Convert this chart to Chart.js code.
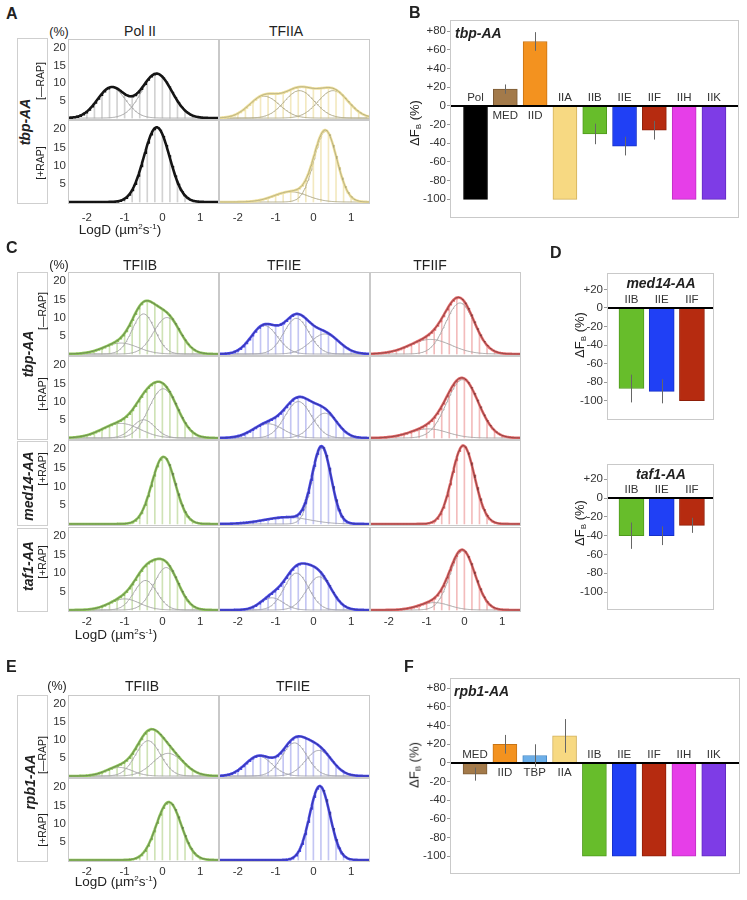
<!DOCTYPE html>
<html><head><meta charset="utf-8">
<script src="https://cdn.jsdelivr.net/npm/chart.js@4.4.1/dist/chart.umd.min.js"></script>
<style>
body{margin:0;background:#fff;width:747px;height:900px;position:relative;overflow:hidden;font-family:"Liberation Sans",Arial,sans-serif;color:#222}
.t{position:absolute;white-space:nowrap;line-height:1;z-index:5}
.c{transform:translate(-50%,-50%)}
.r{transform:translate(-50%,-50%) rotate(-90deg)}
.lt{font-weight:bold;font-size:16px}
.bi{font-weight:bold;font-style:italic;font-size:14px}
.sm{font-size:10.5px}
.lb{position:absolute;border:1px solid #cfcfcf;box-sizing:border-box}
sup{font-size:8px;vertical-align:5px}
sub{font-size:8px;vertical-align:-2px}
</style></head><body>
<script>
// ---------- data ----------
const logDTicks = [-2, -1, 0, 1];
const pctTicks = [5, 10, 15, 20];
const histBinCenters = [-2.4,-2.2,-2.0,-1.8,-1.6,-1.4,-1.2,-1.0,-0.8,-0.6,-0.4,-0.2,0,0.2,0.4,0.6,0.8,1.0,1.2,1.4];

// fitted Gaussian components: [centre logD, width, peak %]
const A_PolII_minusRAP = [[-1.35,0.37,8.7],[-0.15,0.40,12.6]];
const A_PolII_plusRAP  = [[-0.15,0.34,20.5]];
const A_TFIIA_minusRAP = [[-1.3,0.40,6.2],[-0.37,0.40,7.8],[0.52,0.40,7.8]];
const A_TFIIA_plusRAP  = [[-0.6,0.45,2.8],[0.32,0.30,19.4]];

const C_TFIIB_tbp_minus = [[-1.1,0.45,3],[-0.5,0.30,11],[0.12,0.35,10]];
const C_TFIIB_tbp_plus  = [[-1.1,0.50,4],[-0.5,0.30,5],[0.02,0.38,13.5]];
const C_TFIIB_med14     = [[0.03,0.31,18]];
const C_TFIIB_taf1      = [[-1.0,0.40,3],[-0.45,0.30,8],[0.1,0.33,11.5]];
const C_TFIIE_tbp_minus = [[-1.3,0.35,7.8],[-0.45,0.33,9.8],[0.3,0.38,5.5]];
const C_TFIIE_tbp_plus  = [[-1.2,0.40,3.9],[-0.4,0.35,10],[0.3,0.33,6.8]];
const C_TFIIE_med14     = [[-0.7,0.60,1.8],[0.22,0.25,20.3]];
const C_TFIIE_taf1      = [[-1.1,0.30,3.3],[-0.45,0.32,10],[0.15,0.33,9]];
const C_TFIIF_tbp_minus = [[-0.9,0.55,4],[-0.12,0.38,14]];
const C_TFIIF_tbp_plus  = [[-0.95,0.50,2.5],[-0.05,0.42,16]];
const C_TFIIF_med14     = [[-0.03,0.30,21]];
const C_TFIIF_taf1      = [[-0.8,0.40,2],[-0.05,0.33,16]];

const E_TFIIB_minusRAP = [[-1.15,0.35,2.4],[-0.38,0.33,9.8],[0.15,0.40,6.3]];
const E_TFIIB_plusRAP  = [[0.17,0.33,15.9]];
const E_TFIIE_minusRAP = [[-1.45,0.35,5.5],[-0.5,0.33,9.2],[0.14,0.35,7.1]];
const E_TFIIE_plusRAP  = [[0.17,0.27,20.3]];

const deltaTicksBF = [80,60,40,20,0,-20,-40,-60,-80,-100];
const deltaTicksD  = [20,0,-20,-40,-60,-80,-100];
const B_categories = ['Pol','MED','IID','IIA','IIB','IIE','IIF','IIH','IIK'];
const B_values     = [-100,18,69,-100,-30,-43,-26,-100,-100];
const B_errors     = [0,5,10,0,11,10,10,0,0];
const D_categories = ['IIB','IIE','IIF'];
const D_med14_values = [-87,-90,-100];
const D_med14_errors = [15,13,0];
const D_taf1_values  = [-40,-40,-29];
const D_taf1_errors  = [14,10,8];
const F_categories = ['MED','IID','TBP','IIA','IIB','IIE','IIF','IIH','IIK'];
const F_values     = [-12,20,8,29,-100,-100,-100,-100,-100];
const F_errors     = [7,10,12,18,0,0,0,0,0];

// ---------- styles ----------
const FAM = '"Liberation Sans", Arial, sans-serif';
Chart.defaults.font.family = FAM;
const PAL = {
  pol:{line:'#151515',fit:'#151515',hist:'#d2d2d2',comp:'#a8a8a8',fw:0.9},
  a:{line:'#efe09c',fit:'#aaa47c',hist:'#f3e9c0',comp:'#b2ac8c',fw:0.8},
  b:{line:'#8fc85a',fit:'#5d6a50',hist:'#cfe3b6',comp:'#a8a8a8',fw:0.7},
  e:{line:'#4848ec',fit:'#34347a',hist:'#c4c6f3',comp:'#a6a6b0',fw:0.7},
  f:{line:'#e46a6a',fit:'#6c3434',hist:'#f3bcbc',comp:'#aaa6a6',fw:0.7}
};
const BARCOL = {Pol:['#000','#000'],MED:['#a37a4a','#7d5c36'],IID:['#f3921f','#c87414'],IIA:['#f7d982','#d2b15c'],
  IIB:['#67bd2b','#4f9a1c'],IIE:['#2040f5','#1630c8'],IIF:['#b62b10','#8e1e08'],IIH:['#e63ee8','#c02ec2'],
  IIK:['#7e3ce6','#622bc0'],TBP:['#6cafe9','#4a8cc8']};

// ---------- helpers ----------
function txt(html, x, y, cls, extra){
  const d=document.createElement('div'); d.className='t '+(cls||''); d.innerHTML=html;
  d.style.left=x+'px'; d.style.top=y+'px'; if(extra) d.style.cssText+=extra; document.body.appendChild(d); return d;
}
function lbox(l,t,w,h){const d=document.createElement('div');d.className='lb';d.style.cssText+=`left:${l}px;top:${t}px;width:${w}px;height:${h}px`;document.body.appendChild(d);}
function mkCanvas(l,t,w,h){const d=document.createElement('div');d.style.cssText=`position:absolute;left:${l}px;top:${t}px;width:${w}px;height:${h}px`;const c=document.createElement('canvas');d.appendChild(c);document.body.appendChild(d);return c;}
function gauss(comps,x){return comps.reduce((s,[m,sd,a])=>s+a*Math.exp(-((x-m)*(x-m))/(2*sd*sd)),0);}
function noPad(s){s.paddingTop=0;s.paddingBottom=0;s.paddingLeft=0;s.paddingRight=0;}
const xs=[]; for(let i=0;i<=200;i++) xs.push(-2.5+i*0.02);

const framePlugin={id:'frame',afterDraw(c){const a=c.chartArea,x=c.ctx;x.save();x.strokeStyle='#c9c9c9';x.lineWidth=1;
  x.strokeRect(Math.round(a.left)+0.5,Math.round(a.top)+0.5,Math.round(a.right-a.left)-1,Math.round(a.bottom-a.top)-1);x.restore();}};

function density(box, comps, pal, showY, showX, xPad){
  const padL=showY?26:0, padB=showX?22:0;
  const cv=mkCanvas(box.l-padL, box.t, box.w+padL, box.h+padB);
  const ds=[];
  ds.push({type:'bar',data:histBinCenters.map(b=>({x:b,y:gauss(comps,b)})).filter(p=>p.y>0.3),
    backgroundColor:pal.hist,barThickness:1,order:10});
  if(comps.length>1) comps.forEach(c=>ds.push({type:'line',data:xs.map(x=>({x,y:gauss([c],x)})),borderColor:pal.comp,borderWidth:1,pointRadius:0,order:5}));
  const tot=xs.map(x=>({x,y:gauss(comps,x)}));
  ds.push({type:'line',data:tot,borderColor:pal.line,borderWidth:2.6,pointRadius:0,order:2});
  ds.push({type:'line',data:tot.map(p=>({x:p.x,y:p.y})),borderColor:pal.fit,borderWidth:pal.fw,pointRadius:0,order:1});
  new Chart(cv,{type:'line',data:{datasets:ds},options:{responsive:true,maintainAspectRatio:false,animation:false,
    layout:{padding:0},plugins:{legend:{display:false},tooltip:{enabled:false}},
    scales:{
      x:{type:'linear',min:-2.5,max:1.5,offset:false,display:showX,afterFit(s){s.height=padB;noPad(s);},
        afterBuildTicks(s){s.ticks=logDTicks.map(v=>({value:v}));},
        grid:{display:false,drawTicks:false,offset:false},border:{display:false},
        ticks:{padding:xPad||3,color:'#333',font:{size:11.5},maxRotation:0}},
      y:{min:-0.55,max:22.5,display:showY,afterFit(s){s.width=padL;noPad(s);},
        afterBuildTicks(s){s.ticks=pctTicks.map(v=>({value:v}));},
        grid:{display:false,drawTicks:false},border:{display:false},
        ticks:{padding:2,color:'#333',font:{size:11.5}}}
    }},plugins:[framePlugin]});
}

function barPanel(box, cats, vals, errs, ticks, yMin, yMax, xMin, xMax, thick, axisW){
  const cv=mkCanvas(box.l-axisW, box.t, box.w+axisW, box.h);
  const deco={id:'deco',afterDatasetsDraw(c){
    const ctx=c.ctx,a=c.chartArea,ys=c.scales.y,meta=c.getDatasetMeta(0),y0=ys.getPixelForValue(0);
    ctx.save();
    ctx.strokeStyle='#000';ctx.lineWidth=2;ctx.beginPath();ctx.moveTo(a.left,y0);ctx.lineTo(a.right,y0);ctx.stroke();
    ctx.strokeStyle='#666';ctx.lineWidth=1;
    meta.data.forEach((el,i)=>{if(errs[i]>0){const px=Math.round(el.x)+0.5;ctx.beginPath();
      ctx.moveTo(px,ys.getPixelForValue(vals[i]+errs[i]));ctx.lineTo(px,ys.getPixelForValue(vals[i]-errs[i]));ctx.stroke();}});
    ctx.fillStyle='#333';ctx.font='11.5px '+FAM;ctx.textAlign='center';
    meta.data.forEach((el,i)=>{if(vals[i]<0){ctx.textBaseline='bottom';ctx.fillText(cats[i],el.x,y0-2);}
      else{ctx.textBaseline='top';ctx.fillText(cats[i],el.x,y0+4);}});
    ctx.restore();}};
  new Chart(cv,{type:'bar',data:{datasets:[{data:vals.map((v,i)=>({x:i,y:v})),
      backgroundColor:cats.map(c=>BARCOL[c][0]),borderColor:cats.map(c=>BARCOL[c][1]),borderWidth:1,barThickness:thick}]},
    options:{responsive:true,maintainAspectRatio:false,animation:false,layout:{padding:0},
      plugins:{legend:{display:false},tooltip:{enabled:false}},
      scales:{
        x:{type:'linear',min:xMin,max:xMax,offset:false,grid:{offset:false},display:false},
        y:{min:yMin,max:yMax,afterFit(s){s.width=axisW;noPad(s);},afterBuildTicks(s){s.ticks=ticks.map(v=>({value:v}));},
          grid:{display:true,drawOnChartArea:false,drawTicks:true,tickLength:3,color:'#999'},border:{display:false},
          ticks:{padding:1,color:'#333',font:{size:11.5},callback:v=>v>0?'+'+v:String(v)}}
      }},plugins:[framePlugin,deco]});
}

// ---------- panel A ----------
txt('A',6,6,'lt');
txt('(%)',59,32,'c','font-size:12.5px');
txt('Pol II',140,31,'c','font-size:14px');
txt('TFIIA',286,31,'c','font-size:14px');
lbox(17,38,31,166);
txt('tbp-AA',25,122,'r bi');
txt('[—RAP]',40,81,'r sm');
txt('[+RAP]',40,163,'r sm');
density({l:68,t:39,w:151,h:81},A_PolII_minusRAP,PAL.pol,true,false);
density({l:219,t:39,w:151,h:81},A_TFIIA_minusRAP,PAL.a,false,false);
density({l:68,t:120,w:151,h:84},A_PolII_plusRAP,PAL.pol,true,true,7);
density({l:219,t:120,w:151,h:84},A_TFIIA_plusRAP,PAL.a,false,true,7);
txt('LogD (µm<sup>2</sup>s<sup>-1</sup>)',120,230,'c','font-size:13.5px');

// ---------- panel B ----------
txt('B',409,5,'lt');
barPanel({l:450,t:20,w:289,h:198},B_categories,B_values,B_errors,deltaTicksBF,-120,92,-0.856,8.84,24,40);
txt('tbp-AA',455,26,'bi');
txt('ΔF<sub>B</sub> (%)',415,123,'r','font-size:13px');

// ---------- panel C ----------
txt('C',6,240,'lt');
txt('(%)',59,265,'c','font-size:12.5px');
txt('TFIIB',140,265,'c','font-size:14px');
txt('TFIIE',284,265,'c','font-size:14px');
txt('TFIIF',430,265,'c','font-size:14px');
lbox(17,272,31,168); lbox(17,441,31,85); lbox(17,528,31,84);
txt('tbp-AA',28,354,'r bi');
txt('[—RAP]',42,311,'r sm');
txt('[+RAP]',42,394,'r sm');
txt('med14-AA',28,486,'r bi');
txt('[+RAP]',42,469,'r sm');
txt('taf1-AA',28,566,'r bi');
txt('[+RAP]',42,562,'r sm');
const cRows=[[272,84],[356,84],[440,86],[527,85]];
const cData=[[C_TFIIB_tbp_minus,C_TFIIE_tbp_minus,C_TFIIF_tbp_minus],[C_TFIIB_tbp_plus,C_TFIIE_tbp_plus,C_TFIIF_tbp_plus],
  [C_TFIIB_med14,C_TFIIE_med14,C_TFIIF_med14],[C_TFIIB_taf1,C_TFIIE_taf1,C_TFIIF_taf1]];
const cPal=[PAL.b,PAL.e,PAL.f], colL=[68,219,370];
cRows.forEach((r,ri)=>colL.forEach((l,ci)=>density({l:l,t:r[0],w:151,h:r[1]},cData[ri][ci],cPal[ci],ci===0,ri===3,3)));
txt('LogD (µm<sup>2</sup>s<sup>-1</sup>)',116,635,'c','font-size:13.5px');

// ---------- panel D ----------
txt('D',550,245,'lt');
barPanel({l:607,t:273,w:107,h:147},D_categories,D_med14_values,D_med14_errors,deltaTicksD,-121,37.8,-0.81,2.73,25,30);
barPanel({l:607,t:464,w:107,h:146},D_categories,D_taf1_values,D_taf1_errors,deltaTicksD,-119,36.2,-0.81,2.73,25,30);
txt('med14-AA',661,283,'c bi');
txt('taf1-AA',661,474,'c bi');
txt('ΔF<sub>B</sub> (%)',580,335,'r','font-size:13px');
txt('ΔF<sub>B</sub> (%)',580,523,'r','font-size:13px');

// ---------- panel E ----------
txt('E',6,659,'lt');
txt('(%)',57,686,'c','font-size:12.5px');
txt('TFIIB',142,686,'c','font-size:14px');
txt('TFIIE',293,686,'c','font-size:14px');
lbox(17,695,31,167);
txt('rpb1-AA',30,782,'r bi');
txt('[—RAP]',42,755,'r sm');
txt('[+RAP]',42,830,'r sm');
density({l:68,t:695,w:151,h:83},E_TFIIB_minusRAP,PAL.b,true,false);
density({l:219,t:695,w:151,h:83},E_TFIIE_minusRAP,PAL.e,false,false);
density({l:68,t:778,w:151,h:84},E_TFIIB_plusRAP,PAL.b,true,true,3);
density({l:219,t:778,w:151,h:84},E_TFIIE_plusRAP,PAL.e,false,true,3);
txt('LogD (µm<sup>2</sup>s<sup>-1</sup>)',116,882,'c','font-size:13.5px');

// ---------- panel F ----------
txt('F',404,659,'lt');
barPanel({l:450,t:678,w:290,h:196},F_categories,F_values,F_errors,deltaTicksBF,-119,91,-0.84,8.88,24,40);
txt('rpb1-AA',454,684,'bi');
txt('ΔF<sub>B</sub> (%)',415,765,'r','font-size:13px');
</script>
</body></html>
